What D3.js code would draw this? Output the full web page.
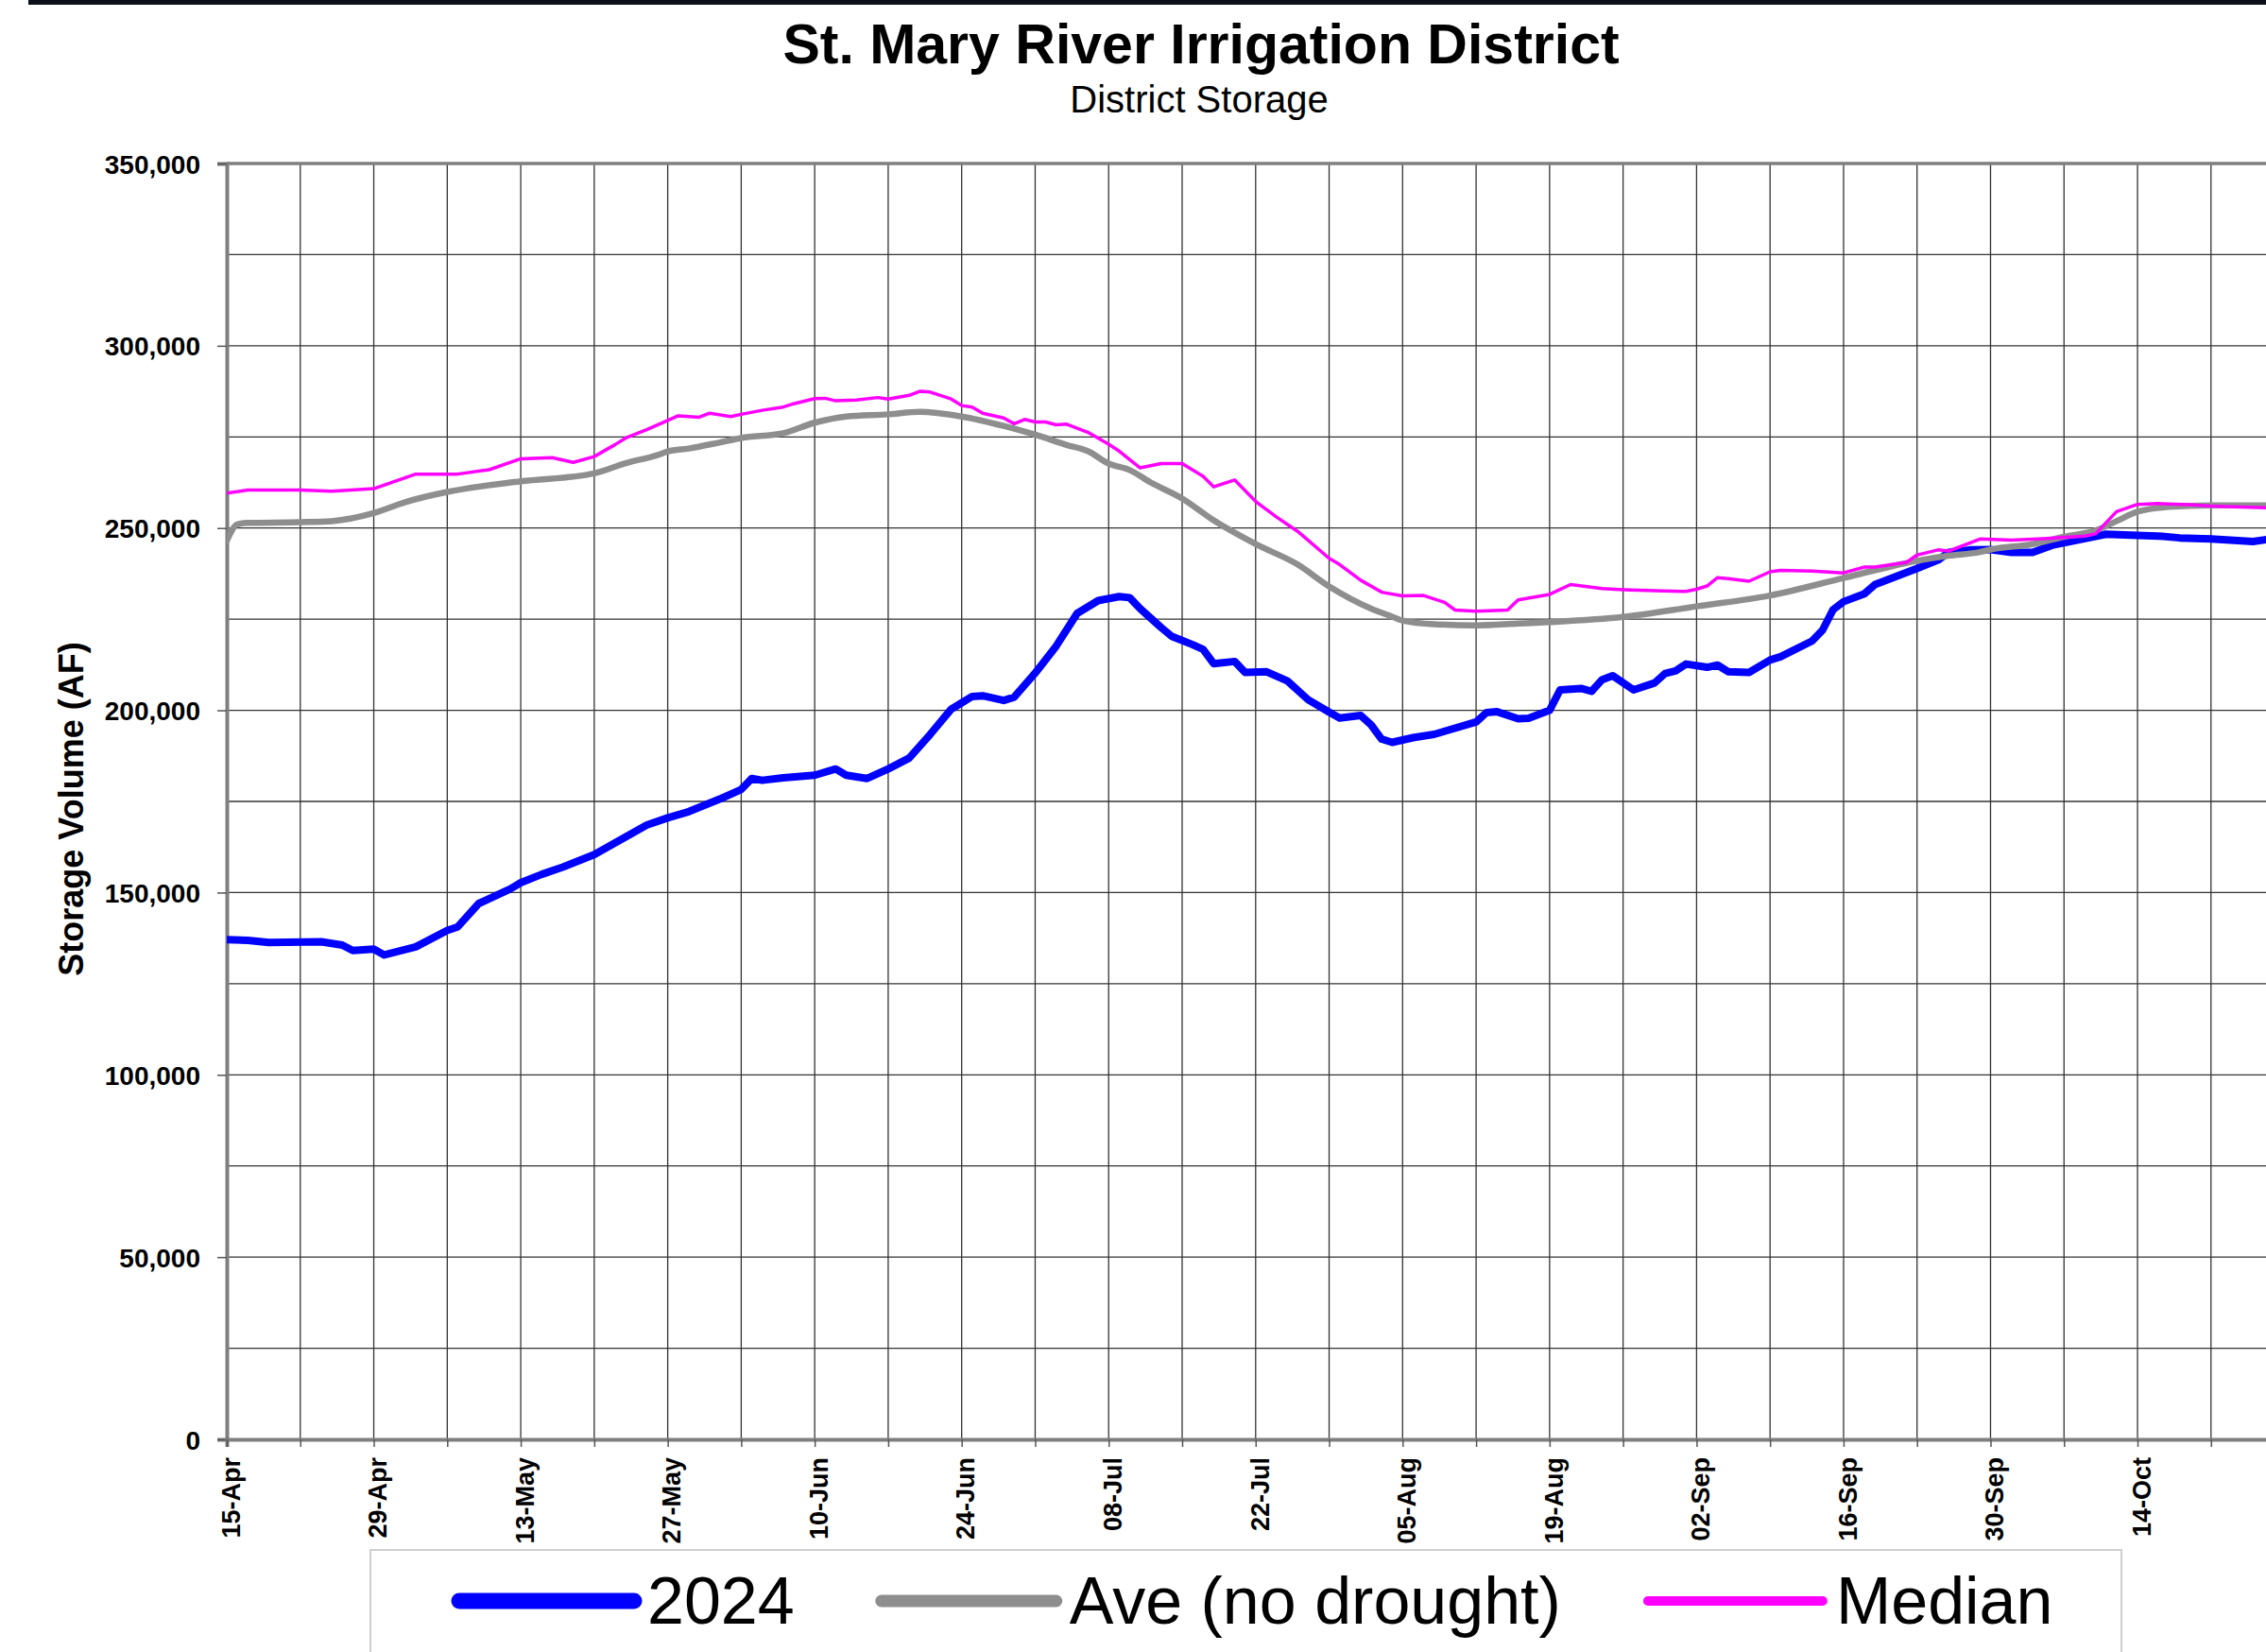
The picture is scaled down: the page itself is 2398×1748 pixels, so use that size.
<!DOCTYPE html>
<html>
<head>
<meta charset="utf-8">
<script src="https://cdn.jsdelivr.net/npm/d3@7"></script>
<style>
  html, body { margin: 0; padding: 0; background: #ffffff; }
  svg { display: block; }
  text { font-family: "Liberation Sans", Arial, sans-serif; }
</style>
</head>
<body>
<svg id="chart" width="2398" height="1748"></svg>
<script>
// ---------------- DATA ----------------
const chartTitle = "St. Mary River Irrigation District";
const chartSubtitle = "District Storage";
const yAxisTitle = "Storage Volume (AF)";
const seriesNames = ["2024", "Ave (no drought)", "Median"];

const yTickValues = [0, 50000, 100000, 150000, 200000, 250000, 300000, 350000];
const xTickLabels = ["15-Apr", "29-Apr", "13-May", "27-May", "10-Jun", "24-Jun", "08-Jul",
  "22-Jul", "05-Aug", "19-Aug", "02-Sep", "16-Sep", "30-Sep", "14-Oct"];

// 2024 storage (AF)
const dates2024 = ["04-15","04-17","04-19","04-24","04-26","04-27","04-29","04-30","05-03","05-06",
  "05-07","05-09","05-12","05-13","05-15","05-17","05-20","05-23","05-25","05-27","05-29","06-01",
  "06-03","06-04","06-05","06-07","06-10","06-12","06-13","06-15","06-17","06-19","06-21","06-23",
  "06-25","06-26","06-28","06-29","07-01","07-03","07-05","07-07","07-09","07-10","07-11","07-13",
  "07-14","07-16","07-17","07-18","07-20","07-21","07-23","07-25","07-27","07-29","07-30","08-01",
  "08-02","08-03","08-04","08-06","08-08","08-12","08-13","08-14","08-16","08-17","08-19","08-20",
  "08-22","08-23","08-24","08-25","08-27","08-29","08-30","08-31","09-01","09-03","09-04","09-05",
  "09-07","09-09","09-10","09-13","09-14","09-15","09-16","09-18","09-19","09-21","09-23","09-25",
  "09-26","09-28","09-30","10-02","10-04","10-06","10-09","10-11","10-14","10-16","10-18","10-21",
  "10-25","10-27"];
const values2024 = [137100,136900,136300,136500,135600,134100,134500,132900,135100,139600,
  140600,147000,151000,152700,155000,157000,160400,165300,168500,170500,172200,175700,
  178300,181300,180800,181500,182200,183900,182200,181300,183900,186900,193400,200300,
  203800,204000,202700,203600,210200,217600,226600,230100,231200,230900,227900,222700,
  220300,218000,216700,212800,213400,210400,210600,208100,202900,199500,197900,198600,
  196000,192100,191200,192500,193400,196800,199400,199600,197700,197800,200000,205600,
  206000,205200,208400,209500,205600,207500,210100,210800,212700,211800,212400,210600,
  210400,213800,214700,219000,222000,227600,229800,232000,234500,236700,238900,241200,
  243300,244000,244100,243300,243300,245400,247100,248300,248000,247800,247300,247000,
  246300,247100];

// Average (no drought) storage (AF)
const datesAve = ["04-15","04-16","04-17","04-22","04-25","04-29","05-02","05-06","05-13","05-20",
  "05-23","05-26","05-27","05-29","06-01","06-03","06-07","06-10","06-13","06-17","06-20","06-24",
  "06-28","07-01","07-04","07-06","07-08","07-10","07-12","07-15","07-18","07-22","07-26","07-29",
  "08-02","08-04","08-05","08-08","08-12","08-16","08-19","08-26","09-02","09-09","09-16","09-20",
  "09-23","09-26","09-29","09-30","10-04","10-07","10-10","10-12","10-14","10-17","10-21","10-27"];
const valuesAve = [246500,251000,251400,251600,251900,254100,257100,259900,262800,265000,
  267800,270000,271000,271800,273500,274700,276000,278900,280600,281200,281900,280600,
  278000,275600,272800,271100,267700,265900,262500,258100,252100,245600,240000,234000,
  227900,225700,224600,223600,223300,223800,224200,225600,228500,231500,236300,239100,
  241000,242400,243400,244100,245600,247600,249300,251900,254500,255800,256200,256200];

// Median storage (AF)
const datesMedian = ["04-15","04-17","04-22","04-25","04-29","05-03","05-07","05-10","05-13","05-16",
  "05-18","05-20","05-22","05-23","05-25","05-27","05-28","05-30","05-31","06-02","06-03","06-05",
  "06-07","06-08","06-10","06-11","06-12","06-14","06-16","06-17","06-19","06-20","06-21","06-23",
  "06-24","06-25","06-26","06-28","06-29","06-30","07-01","07-02","07-03","07-04","07-06","07-08",
  "07-09","07-11","07-13","07-15","07-17","07-18","07-20","07-22","07-24","07-26","07-29","07-30",
  "08-01","08-03","08-05","08-07","08-09","08-10","08-12","08-15","08-16","08-19","08-21","08-24",
  "08-26","08-29","09-01","09-02","09-03","09-04","09-05","09-07","09-09","09-10","09-13","09-16",
  "09-18","09-19","09-22","09-23","09-25","09-26","09-29","10-02","10-05","10-09","10-10","10-12",
  "10-14","10-16","10-19","10-21","10-27"];
const valuesMedian = [259600,260400,260400,260100,260800,264800,264800,266000,269000,269300,
  268000,269600,272900,274700,277000,279500,280800,280400,281500,280600,281200,282300,
  283200,284100,285500,285600,284900,285100,285800,285400,286400,287500,287300,285400,
  283600,283200,281500,280200,278600,279800,279100,279100,278300,278500,276300,273000,
  271100,266500,267700,267700,264200,261300,263200,257300,253000,249100,241700,240000,
  235700,232400,231400,231500,229600,227500,227200,227500,230300,231800,234500,233400,
  233100,232800,232600,233200,234100,236400,236100,235400,238000,238400,238200,237700,
  239300,239300,240600,242600,244000,243700,247000,246700,247100,247800,248400,254500,
  256500,256700,256400,256000,255500];

// ---------------- LAYOUT ----------------
const W = 2398, H = 1748;
const plotLeft = 240, plotTop = 173, plotBottom = 1523;
const pxPerDay = 11.11;
const FONT = '"Liberation Sans", Arial, sans-serif';

const parseMD = d3.utcParse("%Y-%m-%d");
const toDate = md => parseMD("2024-" + md);
const parseLabel = d3.utcParse("%d-%b-%Y");

const startDate = toDate("04-15");
const endDate = toDate("10-31");
const nDays = d3.utcDay.count(startDate, endDate);
const plotRight = plotLeft + nDays * pxPerDay;

const x = d3.scaleUtc().domain([startDate, endDate]).range([plotLeft, plotRight]);
const y = d3.scaleLinear().domain([0, 350000]).range([plotBottom, plotTop]);

const svg = d3.select("#chart");
svg.append("rect").attr("width", W).attr("height", H).attr("fill", "#ffffff");

// top black border bar
svg.append("rect").attr("x", 30).attr("y", 0).attr("width", W - 30).attr("height", 5).attr("fill", "#0b0f17");

// Title + subtitle
svg.append("text").attr("x", 1271).attr("y", 67).attr("text-anchor", "middle")
  .attr("font-size", 59).attr("font-weight", "bold").attr("fill", "#000").text(chartTitle);
svg.append("text").attr("x", 1269).attr("y", 119).attr("text-anchor", "middle")
  .attr("font-size", 40).attr("fill", "#000").text(chartSubtitle);

// Gridlines
const weekTicks = d3.range(0, nDays + 1, 7).map(d => d3.utcDay.offset(startDate, d));
const gridY = d3.range(25000, 350000, 25000);
const grid = svg.append("g");
grid.selectAll("line.h").data(gridY).join("line")
  .attr("x1", plotLeft).attr("x2", plotRight)
  .attr("y1", d => y(d)).attr("y2", d => y(d))
  .attr("stroke", "#333333").attr("stroke-width", 1.3);
grid.selectAll("line.v").data(weekTicks.slice(1)).join("line")
  .attr("x1", d => x(d)).attr("x2", d => x(d))
  .attr("y1", plotTop).attr("y2", plotBottom)
  .attr("stroke", "#333333").attr("stroke-width", 1.3);

// top border (gray)
svg.append("line").attr("x1", plotLeft).attr("x2", plotRight)
  .attr("y1", plotTop).attr("y2", plotTop)
  .attr("stroke", "#7f7f7f").attr("stroke-width", 3.5);

// Y axis
const yAxis = d3.axisLeft(y).tickValues(yTickValues).tickSize(10).tickPadding(18)
  .tickFormat(d3.format(","));
const gy = svg.append("g").attr("transform", `translate(${plotLeft},0)`).call(yAxis);
gy.select(".domain").attr("stroke", "#7f7f7f").attr("stroke-width", 4);
gy.selectAll(".tick line").attr("stroke", "#555").attr("stroke-width", 1.5);
gy.selectAll(".tick text").attr("font-family", FONT).attr("font-size", 28)
  .attr("font-weight", "bold").attr("fill", "#000").attr("dy", "0.36em");

// X axis
const labelDates = xTickLabels.map(l => parseLabel(l + "-2024"));
const xAxis = d3.axisBottom(x).tickValues(weekTicks).tickSize(8).tickFormat("");
const gx = svg.append("g").attr("transform", `translate(0,${plotBottom})`).call(xAxis);
gx.select(".domain").attr("stroke", "#7f7f7f").attr("stroke-width", 4);
gx.selectAll(".tick line").attr("stroke", "#555").attr("stroke-width", 1.5);
svg.append("g").selectAll("text").data(labelDates).join("text")
  .attr("transform", d => `translate(${x(d) + 4},1542) rotate(-90)`)
  .attr("text-anchor", "end").attr("dy", "0.36em")
  .attr("font-size", 27).attr("font-weight", "bold").attr("fill", "#000")
  .text((d, i) => xTickLabels[i]);

// Y axis title
svg.append("text").attr("transform", `translate(88,${(plotTop + plotBottom) / 2 + 8}) rotate(-90)`)
  .attr("text-anchor", "middle").attr("font-size", 36).attr("font-weight", "bold")
  .attr("fill", "#000").text(yAxisTitle);

// Series
const series = [
  { name: seriesNames[0], dates: dates2024, values: values2024 },
  { name: seriesNames[1], dates: datesAve, values: valuesAve },
  { name: seriesNames[2], dates: datesMedian, values: valuesMedian }
];
const styles = [
  { color: "#0000ff", width: 8, legendWidth: 17, curve: d3.curveLinear },
  { color: "#8e8e8e", width: 6.5, legendWidth: 13, curve: d3.curveMonotoneX },
  { color: "#ff00ff", width: 3.5, legendWidth: 10, curve: d3.curveLinear }
];

svg.append("defs").append("clipPath").attr("id", "plotClip")
  .append("rect").attr("x", plotLeft).attr("y", plotTop - 10)
  .attr("width", plotRight - plotLeft).attr("height", plotBottom - plotTop + 10);

const linesG = svg.append("g").attr("clip-path", "url(#plotClip)");
series.forEach((s, i) => {
  const pts = s.dates.map((d, j) => [toDate(d), s.values[j]]);
  const line = d3.line().x(p => x(p[0])).y(p => y(p[1])).curve(styles[i].curve);
  linesG.append("path").datum(pts).attr("d", line)
    .attr("fill", "none").attr("stroke", styles[i].color)
    .attr("stroke-width", styles[i].width)
    .attr("stroke-linejoin", "round").attr("stroke-linecap", "round");
});

// Legend
const legend = svg.append("g");
legend.append("rect").attr("x", 392).attr("y", 1640).attr("width", 1853).attr("height", 130)
  .attr("fill", "#ffffff").attr("stroke", "#cfcfcf").attr("stroke-width", 2);
let lx = 486;
series.forEach((s, i) => {
  legend.append("line").attr("x1", lx).attr("x2", lx + 185).attr("y1", 1694).attr("y2", 1694)
    .attr("stroke", styles[i].color).attr("stroke-width", styles[i].legendWidth)
    .attr("stroke-linecap", "round");
  const t = legend.append("text").attr("x", lx + 199).attr("y", 1718)
    .attr("font-size", 70).attr("fill", "#000").text(s.name);
  const w = t.node().getComputedTextLength();
  lx = lx + 199 + w + 92;
});
</script>
</body>
</html>
